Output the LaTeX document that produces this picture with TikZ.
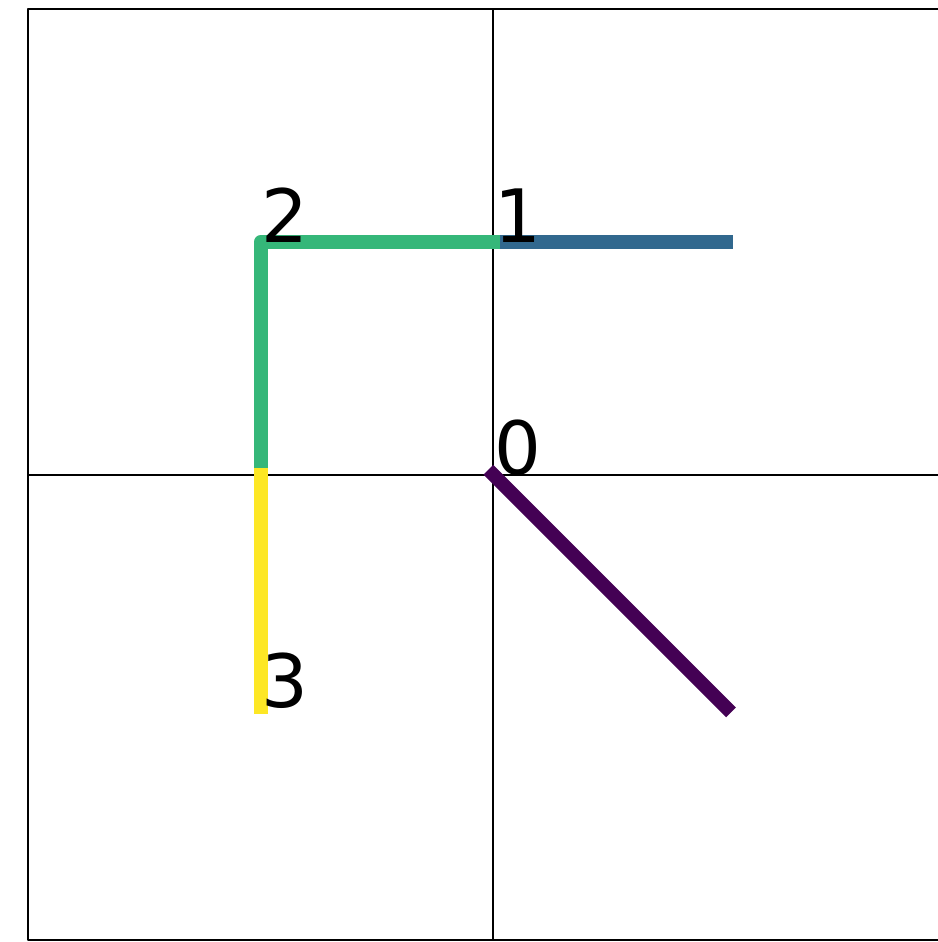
\documentclass[tikz,border=0pt]{standalone}
\usepackage{fontspec}
\setmainfont{DejaVu Sans}
\definecolor{vir0}{HTML}{440154}
\definecolor{vir1}{HTML}{31688E}
\definecolor{vir2}{HTML}{35B779}
\definecolor{vir3}{HTML}{FDE725}
\tikzset{
  seg/.style={line width=3.4pt, line cap=rect, line join=round},
  lbl/.style={anchor=base west, inner sep=0pt, font=\fontsize{18}{18}\selectfont}
}
\begin{document}
\begin{tikzpicture}[x=2cm, y=2cm, line join=round]
				\useasboundingbox (-2.12,-2.008) rectangle (1.91,2.04);
				\begin{scope}
				\clip (-2.12,-2.008) rectangle (1.91,2.04);
				\draw[line width=0.5pt] (-2,-2) rectangle (2,2);
				\draw[line width=0.5pt] (-2,0) -- (2,0) (0,-2) -- (0,2);
				\end{scope}
				
				\coordinate (P0) at (0,0);
				\coordinate (P1) at (0,1);
				\coordinate (P2) at (-1,1);
				\coordinate (P3) at (-1,0);
				\coordinate (E0) at (1,-1);
				\coordinate (E1) at (1,1);
				\coordinate (E3) at (-1,-1);
				
				\draw[seg, vir0] (P0) -- (E0);
				\draw[seg, vir1] (P1) -- (E1);
				\draw[seg, vir2] (P1) -- (P2) -- (P3);
				\draw[seg, vir3] (P3) -- (E3);
				
				\node[lbl] (L0) at (P0) {0};
				\node[lbl] (L1) at (P1) {1};
				\node[lbl] (L2) at (P2) {2};
				\node[lbl] (L3) at (E3) {3};
\end{tikzpicture}
\end{document}
